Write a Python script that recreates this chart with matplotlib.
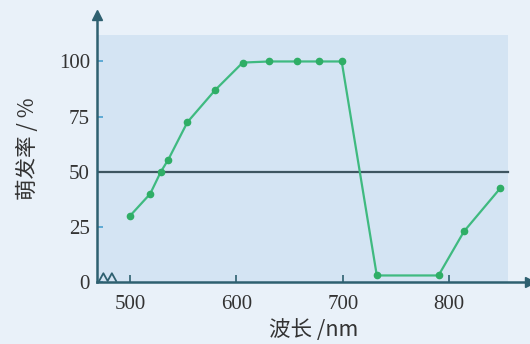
import matplotlib.pyplot as plt
from matplotlib.patches import Rectangle

# wavelength (nm) and germination rate (%)
wavelength = [500, 519, 529, 536, 554, 580, 606, 631, 657, 678, 699, 732, 790, 814, 848]
germination = [30, 40, 50, 55.5, 72.5, 87, 99.5, 100, 100, 100, 100, 3, 3, 23, 42.5]
xticks = [500, 600, 700, 800]
yticks = [0, 25, 50, 75, 100]
threshold = 50

fig = plt.figure(figsize=(5.3, 3.44), dpi=100)
fig.patch.set_facecolor('#e9f1f9')
ax = fig.add_axes([0.183, 0.180, 0.817, 0.776])
ax.set_facecolor('none')
ax.set_xlim(469, 876)
ax.set_ylim(0, 121)

axis_col = '#2e6070'
ax.add_patch(Rectangle((469, 0), 855 - 469, 112, facecolor='#d4e4f3', edgecolor='none', zorder=0))

ax.plot([469, 855], [threshold, threshold], color='#3e5560', lw=1.6, zorder=2)
ax.plot(wavelength, germination, color='#3fba80', lw=1.6, marker='o', ms=4.5,
        markerfacecolor='#2fae66', markeredgecolor='#2fae66', zorder=3)

for s in ['top', 'right']:
    ax.spines[s].set_visible(False)
for s in ['left', 'bottom']:
    ax.spines[s].set_color(axis_col)
    ax.spines[s].set_linewidth(1.8)
# axis arrows
ax.plot(1, 0, '>', color=axis_col, ms=7, transform=ax.transAxes, clip_on=False)
ax.plot(0, 1, '^', color=axis_col, ms=7, transform=ax.transAxes, clip_on=False)

# break mark
ax.plot([471, 475, 479, 483, 487], [0.5, 4, 0.5, 4, 0.5],
        color=axis_col, lw=1.3, clip_on=False)

ax.set_xticks(xticks)
ax.set_yticks(yticks)
ax.tick_params(axis='x', direction='in', length=5, width=1.2, color=axis_col, pad=9)
ax.tick_params(axis='y', direction='in', length=4, width=1.2, color='#4aa0d0', pad=5)
for lab in ax.get_xticklabels() + ax.get_yticklabels():
    lab.set_family('Liberation Serif')
    lab.set_fontsize(15)
    lab.set_color('#333333')

ax.set_xlabel('波长 /nm', family=['Noto Sans CJK SC', 'DejaVu Sans'], fontsize=15.5,
              color='#333333', labelpad=4)
ax.set_ylabel('萌发率 / %', family=['Noto Sans CJK SC', 'DejaVu Sans'], fontsize=15.5,
              color='#333333', labelpad=14)

fig.savefig('out.png', dpi=100, facecolor=fig.get_facecolor())
